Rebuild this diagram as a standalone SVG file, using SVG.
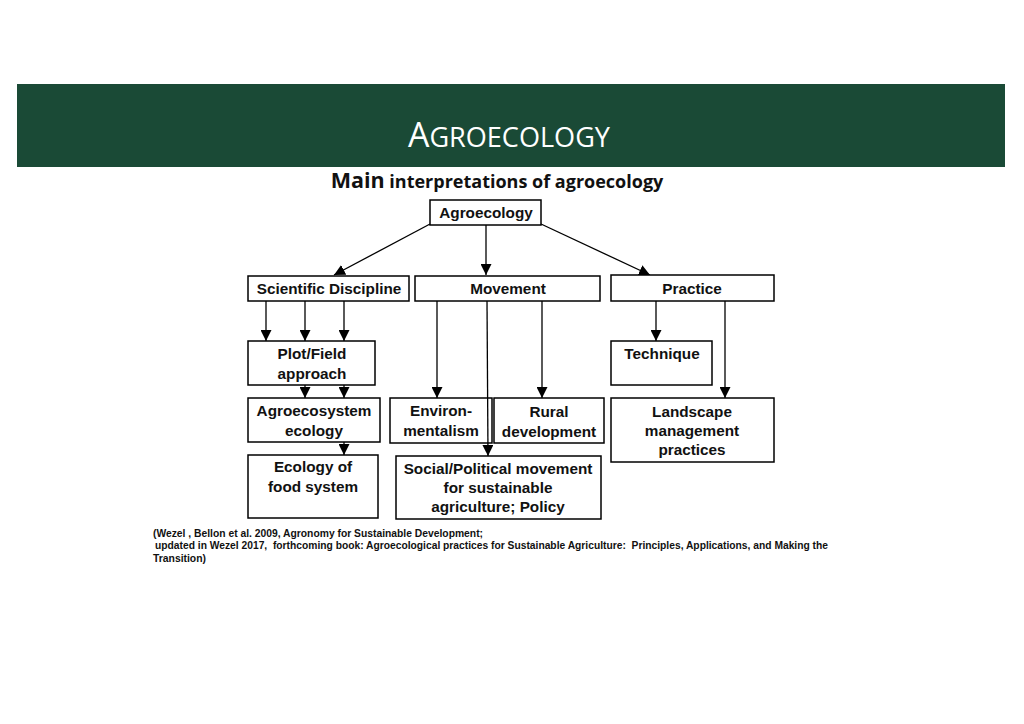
<svg xmlns="http://www.w3.org/2000/svg" width="1024" height="724" viewBox="0 0 1024 724">
<defs>
<marker id="ah" viewBox="0 0 10 10" refX="10" refY="5" markerWidth="11" markerHeight="11" markerUnits="userSpaceOnUse" orient="auto">
<path d="M0,0 L10,5 L0,10 Z" fill="#000"/>
</marker>
</defs>
<style>
.box{fill:#fff;stroke:#000;stroke-width:1.5}
.t{font-family:"Liberation Sans",Arial,sans-serif;font-weight:bold;font-size:15.3px;fill:#111;text-anchor:middle}
.c{stroke:#000;stroke-width:1.3;fill:none;marker-end:url(#ah)}
.cit{font-family:"Liberation Sans",Arial,sans-serif;font-weight:bold;font-size:10px;fill:#111;white-space:pre}
</style>
<rect width="1024" height="724" fill="#fff"/>
<rect x="17" y="84" width="988" height="83" fill="#1a4a36"/>
<text x="509" y="147" text-anchor="middle" font-family="'Open Sans','Noto Sans',sans-serif" fill="#fff" textLength="202" lengthAdjust="spacingAndGlyphs"><tspan font-size="35">A</tspan><tspan font-size="28">GROECOLOGY</tspan></text>
<text x="497" y="188" text-anchor="middle" font-family="'Open Sans','Noto Sans',sans-serif" font-weight="bold" fill="#111"><tspan font-size="21.5">Main</tspan><tspan font-size="18"> interpretations of agroecology</tspan></text>

<g id="connectors">
<line class="c" x1="430" y1="224" x2="334" y2="275"/>
<line class="c" x1="486" y1="224" x2="486" y2="275"/>
<line class="c" x1="541" y1="224" x2="650" y2="275"/>
<line class="c" x1="266" y1="301" x2="266" y2="341"/>
<line class="c" x1="305" y1="301" x2="305" y2="341"/>
<line class="c" x1="344" y1="301" x2="344" y2="341"/>
<line class="c" x1="305" y1="385" x2="305" y2="398"/>
<line class="c" x1="344" y1="385" x2="344" y2="398"/>
<line class="c" x1="344" y1="442" x2="344" y2="455"/>
<line class="c" x1="437" y1="301" x2="437" y2="398"/>
<line class="c" x1="542" y1="301" x2="542" y2="398"/>
<line class="c" x1="656" y1="301" x2="656" y2="341"/>
<line class="c" x1="725" y1="301" x2="725" y2="398"/>
</g>

<g id="agroecology"><rect class="box" x="430" y="200" width="111" height="25"/><text class="t" x="486" y="218">Agroecology</text></g>
<g id="scientific"><rect class="box" x="248" y="276" width="161" height="25"/><text class="t" x="329" y="294">Scientific Discipline</text></g>
<g id="movement"><rect class="box" x="415" y="276" width="185" height="25"/><text class="t" x="508" y="294">Movement</text></g>
<g id="practice"><rect class="box" x="611" y="275" width="163" height="26" stroke-width="2"/><text class="t" x="692" y="294">Practice</text></g>

<g id="plotfield"><rect class="box" x="248" y="341" width="127" height="44"/><text class="t" x="312" y="359">Plot/Field</text><text class="t" x="312" y="379">approach</text></g>
<g id="agroecosystem"><rect class="box" x="248" y="398" width="132" height="44"/><text class="t" x="314" y="416">Agroecosystem</text><text class="t" x="314" y="436">ecology</text></g>
<g id="foodsystem"><rect class="box" x="248" y="455" width="130" height="63"/><text class="t" x="313" y="472">Ecology of</text><text class="t" x="313" y="492">food system</text></g>

<g id="environmentalism"><rect class="box" x="390" y="398" width="102" height="45"/><text class="t" x="441" y="416">Environ-</text><text class="t" x="441" y="436">mentalism</text></g>
<g id="rural"><rect class="box" x="494" y="398" width="110" height="45"/><text class="t" x="549" y="417">Rural</text><text class="t" x="549" y="437">development</text></g>
<g id="social"><rect class="box" x="396" y="456" width="205" height="63"/><text class="t" x="498" y="474">Social/Political movement</text><text class="t" x="498" y="493">for sustainable</text><text class="t" x="498" y="512">agriculture; Policy</text></g>

<g id="technique"><rect class="box" x="611" y="341" width="101" height="44"/><text class="t" x="662" y="359">Technique</text></g>
<g id="landscape"><rect class="box" x="611" y="398" width="163" height="64"/><text class="t" x="692" y="417">Landscape</text><text class="t" x="692" y="436">management</text><text class="t" x="692" y="455">practices</text></g>

<g id="long-connector">
<line class="c" x1="487" y1="301" x2="488" y2="456"/>
</g>

<g id="citation">
<text class="cit" x="153" y="537" textLength="330" lengthAdjust="spacingAndGlyphs">(Wezel , Bellon et al. 2009, Agronomy for Sustainable Development;</text>
<text class="cit" x="155" y="549" textLength="673" lengthAdjust="spacingAndGlyphs">updated in Wezel 2017,  forthcoming book: Agroecological practices for Sustainable Agriculture:  Principles, Applications, and Making the</text>
<text class="cit" x="153" y="562" textLength="53" lengthAdjust="spacingAndGlyphs">Transition)</text>
</g>
</svg>
